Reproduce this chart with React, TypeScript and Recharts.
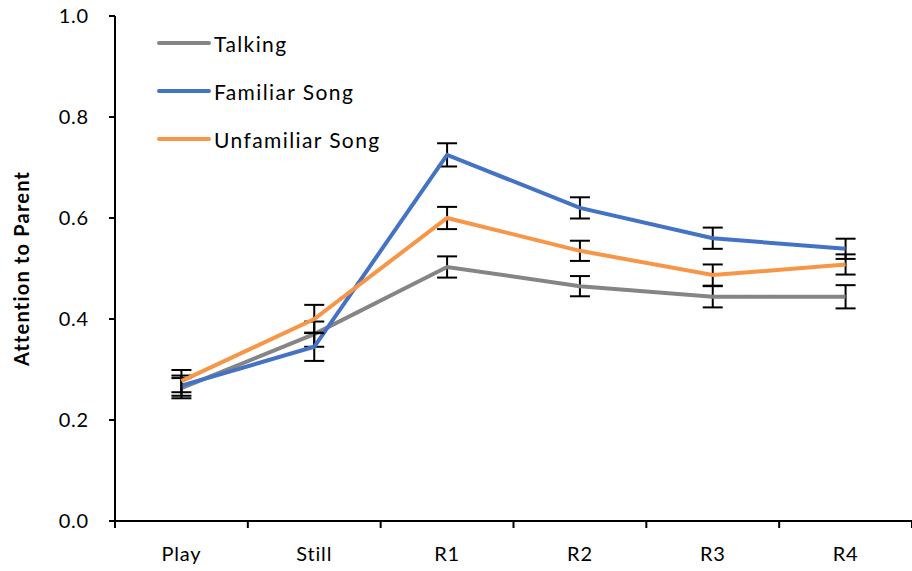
import React from 'react';
import { LineChart, Line, XAxis, YAxis, ErrorBar } from 'recharts';

const categories = ['Play', 'Still', 'R1', 'R2', 'R3', 'R4'];
const talking = [0.263, 0.37, 0.503, 0.465, 0.444, 0.444];
const familiar = [0.268, 0.345, 0.725, 0.62, 0.56, 0.539];
const unfamiliar = [0.277, 0.4, 0.6, 0.535, 0.487, 0.508];
const talkingErr = [0.02, 0.025, 0.021, 0.02, 0.021, 0.023];
const familiarErr = [0.02, 0.028, 0.023, 0.021, 0.021, 0.02];
const unfamiliarErr = [0.022, 0.028, 0.022, 0.02, 0.021, 0.02];
const yTicks = [0, 0.2, 0.4, 0.6, 0.8, 1.0];

const seriesNames = ['Talking', 'Familiar Song', 'Unfamiliar Song'];
const seriesKeys = ['talking', 'familiar', 'unfamiliar'];
const seriesColors = ['#858585', '#4472C4', '#F79646'];

const data = categories.map((c, i) => ({
  x: i + 0.5,
  name: c,
  talking: talking[i],
  familiar: familiar[i],
  unfamiliar: unfamiliar[i],
  talkingErr: talkingErr[i],
  familiarErr: familiarErr[i],
  unfamiliarErr: unfamiliarErr[i],
}));

const xTicks: number[] = [];
for (let i = 0; i <= categories.length * 2; i++) xTicks.push(i / 2);

const FONT = 'Lato, "Noto Sans", sans-serif';
const TICK_SIZE = 6;
const TICK_MARGIN = 20;

const XTick = (props: any) => {
  const { x, y, payload } = props;
  const v = payload.value;
  const axisY = y - TICK_SIZE - TICK_MARGIN;
  if (Number.isInteger(v)) {
    return <line x1={x} x2={x} y1={axisY} y2={axisY + TICK_SIZE + 1} stroke="#000" strokeWidth={2} />;
  }
  const idx = Math.floor(v);
  return (
    <text
      x={x}
      y={y}
      dy="0.71em"
      textAnchor="middle"
      fontSize={20}
      fontFamily={FONT}
      letterSpacing={0.8}
      fill="#000"
    >
      {categories[idx]}
    </text>
  );
};

const LegendBox = () => (
  <div
    style={{
      position: 'absolute',
      left: 157,
      top: 19,
      fontFamily: FONT,
      fontSize: 21,
      letterSpacing: 1.4,
      color: '#000',
    }}
  >
    {seriesNames.map((n, i) => (
      <div key={n} style={{ display: 'flex', alignItems: 'center', height: 48 }}>
        <span
          style={{
            display: 'inline-block',
            width: 54,
            height: 4,
            borderRadius: 2,
            background: seriesColors[i],
            marginRight: 3,
          }}
        />
        <span>{n}</span>
      </div>
    ))}
  </div>
);

export default function App() {
  return (
    <div style={{ position: 'absolute', left: 0, top: 0, width: 912, height: 571, background: '#fff' }}>
      <LineChart width={912} height={571} data={data} margin={{ top: 16, right: 0, bottom: 0, left: 0 }}>
        <XAxis
          dataKey="x"
          type="number"
          domain={[0, 6]}
          ticks={xTicks}
          interval={0}
          height={50}
          tickLine={false}
          tickSize={TICK_SIZE}
          tickMargin={TICK_MARGIN}
          tick={<XTick />}
          axisLine={{ stroke: '#000', strokeWidth: 2 }}
          allowDataOverflow
        />
        <YAxis
          domain={[0, 1]}
          ticks={yTicks}
          interval={0}
          width={115}
          tickFormatter={(v: number) => v.toFixed(1)}
          tick={{ fontSize: 20, fontFamily: FONT, fill: '#000', letterSpacing: 0.8 }}
          tickLine={{ stroke: '#000', strokeWidth: 2 }}
          tickSize={6}
          tickMargin={20}
          axisLine={{ stroke: '#000', strokeWidth: 2 }}
          label={{
            value: 'Attention to Parent',
            angle: -90,
            position: 'insideLeft',
            offset: 22,
            style: {
              textAnchor: 'middle',
              fontWeight: 'bold',
              fontSize: 20,
              letterSpacing: 1.2,
              fontFamily: FONT,
              fill: '#000',
            },
          }}
        />
        {seriesKeys.map((k, i) => (
          <Line
            key={k}
            dataKey={k}
            name={seriesNames[i]}
            stroke={seriesColors[i]}
            strokeWidth={4}
            dot={false}
            isAnimationActive={false}
          >
            <ErrorBar dataKey={k + 'Err'} direction="y" width={10} stroke="#000" strokeWidth={2} />
          </Line>
        ))}
      </LineChart>
      <LegendBox />
    </div>
  );
}
